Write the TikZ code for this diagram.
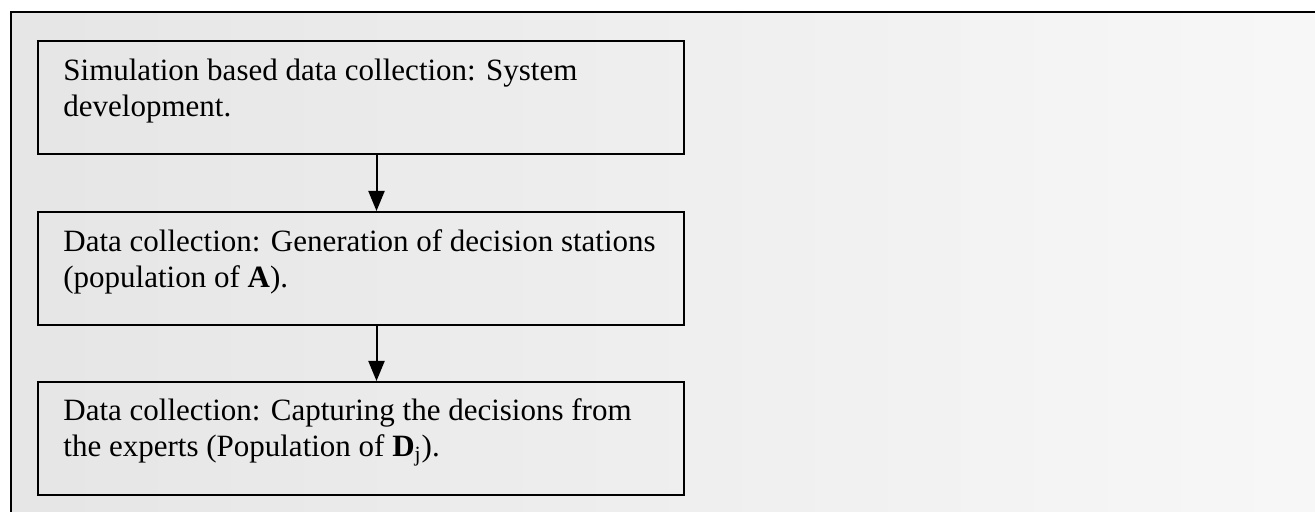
\documentclass[tikz,border=0pt]{standalone}
\usepackage{fontspec}
\setmainfont{Liberation Serif}
\usetikzlibrary{arrows.meta}
\begin{document}
\begin{tikzpicture}[x=0.5pt,y=-0.5pt,
  panel/.style={line width=1.2pt},
  stagebox/.style={draw, line width=1pt, anchor=north west,
    minimum width=323pt, minimum height=56.5pt, inner sep=0pt},
  stagetext/.style={anchor=base west, inner sep=0pt, align=left,
    font=\fontsize{15.5pt}{18pt}\selectfont},
  flow/.style={line width=1pt, -{Triangle[length=10pt,width=8pt]}}]
\useasboundingbox (0,0) rectangle (1315,512);
% shaded panel behind the flow chart
\fill[left color=black!10, right color=black!3] (11,12) rectangle (1315,512);
\draw[panel] (11,512) -- (11,12) -- (1315,12);

% the three stages
\node[stagebox] (b1) at (37,40) {};
\node[stagebox] (b2) at (37,211) {};
\node[stagebox] (b3) at (37,381) {};

% text blocks, placed by the baseline of their last line
\node[stagetext] (t1) at (63,117) {Simulation based data collection: System\\development.};
\node[stagetext] (t2) at (63,288) {Data collection: Generation of decision stations\\(population of \textbf{A}).};
\node[stagetext] (t3) at (63,457) {Data collection: Capturing the decisions from\\the experts (Population of \textbf{D}\textsubscript{j}).};

% connectors
\coordinate (ax) at (376.5,0);
\draw[flow] (b1.south -| ax) -- (b2.north -| ax);
\draw[flow] (b2.south -| ax) -- (b3.north -| ax);
\end{tikzpicture}
\end{document}
